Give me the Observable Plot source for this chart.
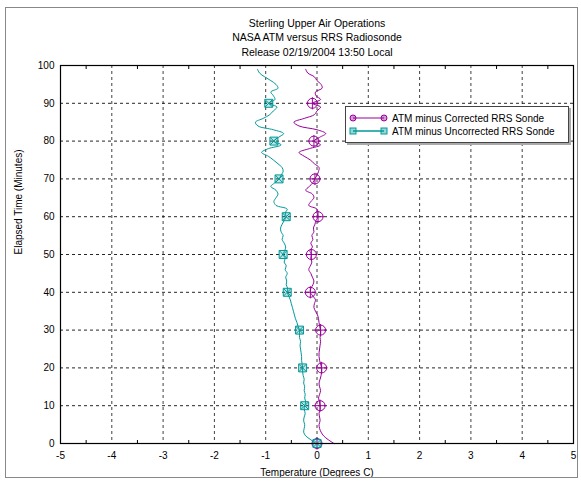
<!DOCTYPE html>
<html><head><meta charset="utf-8">
<script src="https://cdn.jsdelivr.net/npm/d3@7"></script>
<script src="https://cdn.jsdelivr.net/npm/@observablehq/plot@0.6"></script>
<style>
body{margin:0;background:#fff;font-family:"Liberation Sans",Arial,sans-serif;}
#wrap{position:relative;width:581px;height:483px;}
#border{position:absolute;left:5px;top:7px;width:573px;height:471px;border:1px solid #888;box-sizing:border-box;pointer-events:none;}
#legend{position:absolute;left:345px;top:106px;width:222px;height:35px;border:1px solid #444;background:#fff;box-shadow:2px 2px 0 #aaa;font-size:10px;}
#legend svg{position:absolute;left:0;top:0;}
</style></head><body><div id="wrap"><div id="border"></div></div>
<script>
const titleLines = ["Sterling Upper Air Operations", "NASA ATM versus RRS Radiosonde", "Release 02/19/2004 13:50 Local"];
const xLabel = "Temperature (Degrees C)";
const yLabel = "Elapsed Time (Minutes)";
const seriesNames = ["ATM minus Corrected RRS Sonde", "ATM minus Uncorrected RRS Sonde"];
const seriesColors = ["#990099", "#009999"];
const xTicks = [-5,-4,-3,-2,-1,0,1,2,3,4,5];
const xMinorTicks = [-4.5,-3.5,-2.5,-1.5,-0.5,0.5,1.5,2.5,3.5,4.5];
const yTicks = [0,10,20,30,40,50,60,70,80,90,100];
const minutes = d3.range(0, 100);
const corrected = [
 0.33,0.22,0.13,0.08,0.05,0.04,0.06,0.05,0.04,0.06,
 0.06,0.05,0.03,0.05,0.07,0.05,0.04,0.06,0.08,0.09,
 0.09,0.07,0.05,0.04,0.04,0.05,0.06,0.07,0.06,0.07,
 0.07,0.05,0.04,0.03,0.01,-0.03,-0.06,-0.05,-0.03,-0.08,
 -0.13,-0.12,-0.08,-0.06,-0.09,-0.12,-0.16,-0.13,-0.10,-0.12,
 -0.11,-0.14,-0.09,-0.12,-0.08,-0.10,-0.06,-0.07,-0.04,-0.02,
 0.02,0.00,0.00,-0.16,-0.12,-0.06,-0.09,-0.22,-0.15,-0.08,
 -0.04,0.00,0.03,0.04,-0.05,-0.13,-0.25,-0.35,-0.15,0.07,
 -0.06,0.05,0.17,0.00,-0.35,-0.45,-0.25,-0.05,0.00,0.07,
 -0.09,0.07,-0.02,-0.03,0.10,0.08,0.00,-0.05,-0.18,-0.22];
const uncorrected = [
 -0.03,-0.12,-0.22,-0.26,-0.25,-0.24,-0.26,-0.25,-0.23,-0.25,
 -0.24,-0.22,-0.24,-0.23,-0.25,-0.24,-0.26,-0.25,-0.27,-0.28,
 -0.28,-0.29,-0.30,-0.30,-0.31,-0.32,-0.33,-0.32,-0.34,-0.34,
 -0.34,-0.37,-0.39,-0.42,-0.44,-0.46,-0.48,-0.50,-0.52,-0.55,
 -0.58,-0.57,-0.60,-0.59,-0.61,-0.58,-0.62,-0.60,-0.64,-0.62,
 -0.66,-0.63,-0.61,-0.64,-0.68,-0.66,-0.70,-0.71,-0.68,-0.64,
 -0.60,-0.62,-0.58,-0.80,-0.84,-0.80,-0.76,-0.80,-0.90,-0.82,
 -0.74,-0.70,-0.66,-0.68,-0.76,-0.85,-0.95,-1.08,-0.95,-0.70,
 -0.84,-0.75,-0.65,-0.85,-1.15,-1.20,-1.05,-0.92,-0.85,-0.78,
 -0.94,-0.82,-0.85,-0.90,-0.76,-0.80,-0.90,-1.02,-1.12,-1.16];
// marker samples every 10 minutes
const markerMinutes = [0,10,20,30,40,50,60,70,80,90];
const correctedMarkers = [0.0, 0.06, 0.09, 0.07, -0.13, -0.11, 0.02, -0.04, -0.06, -0.09];
const uncorrectedMarkers = [0.0, -0.24, -0.28, -0.34, -0.58, -0.66, -0.60, -0.74, -0.84, -0.94];

const rows = [];
minutes.forEach((t, i) => {
  rows.push({t, v: corrected[i], s: seriesNames[0]});
  rows.push({t, v: uncorrected[i], s: seriesNames[1]});
});
const corrMarks = markerMinutes.map((t, i) => ({t, v: correctedMarkers[i], s: seriesNames[0]}));
const uncMarks = markerMinutes.map((t, i) => ({t, v: uncorrectedMarkers[i], s: seriesNames[1]}));

const fontStyle = {fontFamily: "'Liberation Sans', Arial, sans-serif", fontSize: "10px", background: "transparent", overflow: "visible"};

const chart = Plot.plot({
  width: 581, height: 483,
  marginTop: 65, marginBottom: 40, marginLeft: 60, marginRight: 8,
  style: fontStyle,
  x: {domain: [-5, 5]},
  y: {domain: [0, 100]},
  color: {domain: seriesNames, range: seriesColors},
  marks: [
    Plot.gridX(xTicks, {stroke: "#000", strokeOpacity: 0.75, strokeDasharray: "3,3"}),
    Plot.gridY(yTicks, {stroke: "#000", strokeOpacity: 0.85, strokeDasharray: "3,3"}),
    Plot.axisX(xTicks, {tickSize: 0, tickPadding: 8, label: null, tickFormat: d => String(d).replace("\u2212", "-")}),
    Plot.axisY(yTicks, {tickSize: 0, tickPadding: 6, label: null}),
    Plot.axisX(xMinorTicks, {anchor: "bottom", tickSize: -3, text: null, label: null}),
    Plot.axisX(xMinorTicks, {anchor: "top", tickSize: -3, text: null, label: null}),
    Plot.line(rows, {x: "v", y: "t", z: "s", stroke: "s", strokeWidth: 1, curve: "catmull-rom"}),
    Plot.dot(corrMarks, {x: "v", y: "t", symbol: "circle", r: 5, stroke: "s", fill: "none", strokeWidth: 1}),
    Plot.dot(corrMarks, {x: "v", y: "t", symbol: "plus", r: 4, stroke: "s", strokeWidth: 1}),
    Plot.dot(uncMarks, {x: "v", y: "t", symbol: "square", r: 4.5, stroke: "s", fill: "s", fillOpacity: 0.25, strokeWidth: 1}),
    Plot.dot(uncMarks, {x: "v", y: "t", symbol: "times", r: 3.5, stroke: "s", strokeWidth: 1}),
    Plot.frame({stroke: "#000", strokeWidth: 1.2}),
    Plot.text([titleLines.join("\n")], {text: d => d, frameAnchor: "top", lineAnchor: "bottom", dy: -10, lineHeight: 1.36, fontSize: 10.5, fill: "#000"}),
    Plot.text([xLabel], {text: d => d, frameAnchor: "bottom", lineAnchor: "middle", dy: 29, fontSize: 10, fill: "#000"}),
    Plot.text([yLabel], {text: d => d, frameAnchor: "left", rotate: -90, dx: -42, fontSize: 10, fill: "#000"})
  ]
});
document.getElementById("wrap").prepend(chart);

// legend
const lg = document.createElement("div");
lg.id = "legend";
const ns = "http://www.w3.org/2000/svg";
const svg = document.createElementNS(ns, "svg");
svg.setAttribute("width", 222); svg.setAttribute("height", 35);
seriesNames.forEach((name, i) => {
  const y = 11 + i * 13;
  const col = seriesColors[i];
  const ln = document.createElementNS(ns, "line");
  ln.setAttribute("x1", 7); ln.setAttribute("x2", 38); ln.setAttribute("y1", y); ln.setAttribute("y2", y);
  ln.setAttribute("stroke", col); ln.setAttribute("stroke-width", i === 0 ? 1 : 1.5);
  svg.appendChild(ln);
  [7, 38].forEach(cx => {
    if (i === 0) {
      const c = document.createElementNS(ns, "circle");
      c.setAttribute("cx", cx); c.setAttribute("cy", y); c.setAttribute("r", 3);
      c.setAttribute("fill", col); c.setAttribute("fill-opacity", 0.4); c.setAttribute("stroke", col);
      svg.appendChild(c);
    } else {
      const r = document.createElementNS(ns, "rect");
      r.setAttribute("x", cx - 3); r.setAttribute("y", y - 3); r.setAttribute("width", 6); r.setAttribute("height", 6);
      r.setAttribute("fill", col); r.setAttribute("fill-opacity", 0.4); r.setAttribute("stroke", col);
      svg.appendChild(r);
    }
  });
  const tx = document.createElementNS(ns, "text");
  tx.setAttribute("x", 46); tx.setAttribute("y", y + 3.5);
  tx.setAttribute("font-size", 10); tx.setAttribute("font-family", "'Liberation Sans', Arial, sans-serif");
  tx.textContent = name;
  svg.appendChild(tx);
});
lg.appendChild(svg);
document.getElementById("wrap").appendChild(lg);
</script>
</body></html>
